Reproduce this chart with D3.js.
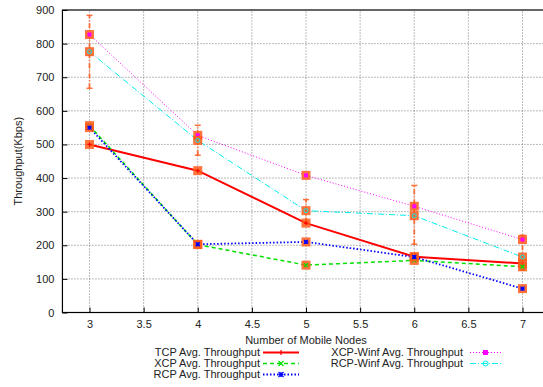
<!DOCTYPE html>
<html>
<head>
<meta charset="utf-8">
<script src="https://cdn.jsdelivr.net/npm/d3@7"></script>
<style>
  body { margin: 0; background: #fff; }
  svg { display: block; font-family: "Liberation Sans", Arial, sans-serif; }
</style>
</head>
<body>
<div id="chart"></div>
<script>
// data
var nodes = [3, 4, 5, 6, 7];
var tcp = [500, 422, 266, 166, 146];
var xcp = [556, 202, 141, 155, 136];
var rcp = [550, 203, 210, 165, 71];
var xcpWinf = [827, 527, 408, 316, 217];
var rcpWinf = [776, 512, 303, 288, 165];
var errLow = [667, 468, 268, 203, 126];
var errHigh = [884, 557, 336, 378, 230];
var xTicks = [3, 3.5, 4, 4.5, 5, 5.5, 6, 6.5, 7];
var yTicks = [0, 100, 200, 300, 400, 500, 600, 700, 800, 900];

var series = [
    { name: "TCP Avg. Throughput", values: tcp, color: "#ff0000", dash: null, width: 2, marker: "plus" },
    { name: "XCP Avg. Throughput", values: xcp, color: "#00e000", dash: "4,3", width: 1.5, marker: "cross" },
    { name: "RCP Avg. Throughput", values: rcp, color: "#0000ff", dash: "1.5,2", width: 1.8, marker: "star" },
    { name: "XCP-Winf Avg. Throughput", values: xcpWinf, color: "#ff00ff", dash: "1,2", width: 1, marker: "square" },
    { name: "RCP-Winf Avg. Throughput", values: rcpWinf, color: "#00eeee", dash: "6,2,1,2", width: 1, marker: "circle" }
];

var width = 543, height = 387;

var x = d3.scaleLinear().domain([3, 7]).range([89.5, 522.5]);
var y = d3.scaleLinear().domain([0, 900]).range([312.5, 10]);
var x0 = x(2.75), x1 = x(7.25);

var svg = d3.select("#chart").append("svg")
    .attr("width", width)
    .attr("height", height);

// grid
var grid = svg.append("g").attr("class", "grid");
grid.selectAll(".gx")
    .data(xTicks)
    .enter().append("line")
    .attr("x1", function(d) { return x(d); })
    .attr("x2", function(d) { return x(d); })
    .attr("y1", y(0))
    .attr("y2", y(900))
    .style("stroke", "#555")
    .style("stroke-width", 0.8)
    .style("stroke-dasharray", "1,2");
grid.selectAll(".gy")
    .data(yTicks.filter(function(d) { return d > 0 && d < 900; }))
    .enter().append("line")
    .attr("x1", x0)
    .attr("x2", x1)
    .attr("y1", function(d) { return y(d); })
    .attr("y2", function(d) { return y(d); })
    .style("stroke", "#555")
    .style("stroke-width", 0.8)
    .style("stroke-dasharray", "1,2");

// axes
var xAxis = d3.axisBottom(x).tickValues(xTicks).tickSize(-5).tickPadding(8)
    .tickFormat(d3.format("~g"));
var yAxis = d3.axisLeft(y).tickValues(yTicks).tickSize(-5).tickPadding(8);

var gx = svg.append("g")
    .attr("transform", "translate(0," + y(0) + ")")
    .call(xAxis);
gx.select(".domain").remove();
gx.selectAll("text").style("font-size", "11px").attr("fill", "#222");

var gy = svg.append("g")
    .attr("transform", "translate(" + x0 + ",0)")
    .call(yAxis);
gy.select(".domain").remove();
gy.selectAll("text").style("font-size", "11px").attr("fill", "#222");

// frame
svg.append("rect")
    .attr("x", x0)
    .attr("y", y(900))
    .attr("width", x1 - x0)
    .attr("height", y(0) - y(900))
    .style("fill", "none")
    .style("stroke", "#000")
    .style("stroke-width", 1.2);

// axis titles
svg.append("text")
    .attr("transform", "translate(22," + ((y(0) + y(900)) / 2) + ") rotate(-90)")
    .attr("text-anchor", "middle")
    .style("font-size", "11px")
    .attr("fill", "#222")
    .text("Throughput(Kbps)");

svg.append("text")
    .attr("x", (x0 + x1) / 2)
    .attr("y", 344)
    .attr("text-anchor", "middle")
    .style("font-size", "11px")
    .attr("fill", "#222")
    .text("Number of Mobile Nodes");

// lines
var line = d3.line()
    .x(function(d, i) { return x(nodes[i]); })
    .y(function(d) { return y(d); });

series.forEach(function(s) {
    svg.append("path")
        .datum(s.values)
        .attr("d", line)
        .style("fill", "none")
        .style("stroke", s.color)
        .style("stroke-width", s.width)
        .style("stroke-dasharray", s.dash);
});

// error bars
var errColor = "#ff5a1a";
var eb = svg.append("g").attr("class", "errbars");
nodes.forEach(function(n, i) {
    eb.append("line")
        .attr("x1", x(n)).attr("x2", x(n))
        .attr("y1", y(errLow[i])).attr("y2", y(errHigh[i]))
        .style("stroke", errColor)
        .style("stroke-width", 1.8)
        .style("stroke-dasharray", "5,2,1,2")
        .style("opacity", 0.85);
    [errLow[i], errHigh[i]].forEach(function(v) {
        eb.append("line")
            .attr("x1", x(n) - 3).attr("x2", x(n) + 3)
            .attr("y1", y(v)).attr("y2", y(v))
            .style("stroke", errColor)
            .style("stroke-width", 1.5)
            .style("opacity", 0.85);
    });
});

// markers
function drawMarker(g, type, cx, cy, color, r) {
    if (type == "plus") {
        g.append("path").attr("d", "M" + (cx - r) + "," + cy + "H" + (cx + r) + "M" + cx + "," + (cy - r) + "V" + (cy + r))
            .style("stroke", color).style("stroke-width", 1.2);
    } else if (type == "cross") {
        g.append("path").attr("d", "M" + (cx - r) + "," + (cy - r) + "L" + (cx + r) + "," + (cy + r) + "M" + (cx - r) + "," + (cy + r) + "L" + (cx + r) + "," + (cy - r))
            .style("stroke", color).style("stroke-width", 1.2);
    } else if (type == "star") {
        g.append("path").attr("d", "M" + (cx - r) + "," + cy + "H" + (cx + r) + "M" + cx + "," + (cy - r) + "V" + (cy + r) +
            "M" + (cx - r) + "," + (cy - r) + "L" + (cx + r) + "," + (cy + r) + "M" + (cx - r) + "," + (cy + r) + "L" + (cx + r) + "," + (cy - r))
            .style("stroke", color).style("stroke-width", 1.2);
    } else if (type == "square") {
        g.append("rect").attr("x", cx - r).attr("y", cy - r).attr("width", 2 * r).attr("height", 2 * r)
            .style("fill", color);
    } else if (type == "circle") {
        g.append("circle").attr("cx", cx).attr("cy", cy).attr("r", r)
            .style("fill", "none").style("stroke", color).style("stroke-width", 1);
    }
}

var pts = svg.append("g").attr("class", "points");
series.forEach(function(s) {
    s.values.forEach(function(v, i) {
        pts.append("rect")
            .attr("x", x(nodes[i]) - 4.5)
            .attr("y", y(v) - 4.5)
            .attr("width", 9)
            .attr("height", 9)
            .style("fill", errColor)
            .style("opacity", 0.85);
        drawMarker(pts, s.marker, x(nodes[i]), y(v), s.color, 2);
    });
});

// legend
var legendCols = [
    { textX: 260, lineX: [263, 299], rows: [0, 1, 2] },
    { textX: 463, lineX: [470, 501], rows: [3, 4] }
];
var legendY = [356, 367, 378];
var legend = svg.append("g").attr("class", "legend");
legendCols.forEach(function(col) {
    col.rows.forEach(function(si, r) {
        var s = series[si];
        var ly = legendY[r] - 3.5;
        legend.append("text")
            .attr("x", col.textX)
            .attr("y", legendY[r])
            .attr("text-anchor", "end")
            .style("font-size", "11px")
            .attr("fill", "#222")
            .text(s.name);
        legend.append("line")
            .attr("x1", col.lineX[0]).attr("x2", col.lineX[1])
            .attr("y1", ly).attr("y2", ly)
            .style("stroke", s.color)
            .style("stroke-width", s.width)
            .style("stroke-dasharray", s.dash);
        drawMarker(legend, s.marker, (col.lineX[0] + col.lineX[1]) / 2, ly, s.color, 2.5);
    });
});
</script>
</body>
</html>
